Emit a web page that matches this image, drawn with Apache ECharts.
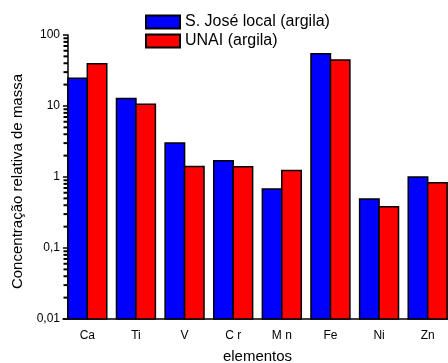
<!DOCTYPE html>
<html>
<head>
<meta charset="utf-8">
<script src="https://cdn.jsdelivr.net/npm/echarts@6/dist/echarts.min.js"></script>
<style>
html,body{margin:0;padding:0;background:#fff;}
#c{width:448px;height:363px;}
</style>
</head>
<body>
<div id="c"></div>
<script>
var categories = ['Ca', 'Ti', 'V', 'C r', 'M n', 'Fe', 'Ni', 'Zn'];
var seriesNames = ['S. José local (argila)', 'UNAI (argila)'];
var sJose = [24.6, 12.8, 3.0, 1.7, 0.68, 54.5, 0.49, 1.0];
var unai = [39.5, 10.6, 1.4, 1.39, 1.23, 44.5, 0.38, 0.83];
var yMin = 0.01, yMax = 100;
var minorTickValues = [];
for (var k = -2; k < 2; k++) {
  for (var m = 2; m <= 9; m++) minorTickValues.push(m * Math.pow(10, k));
}

var FONT = 'Liberation Sans, Arial, sans-serif';
var chart = echarts.init(document.getElementById('c'));

function fmt(v) { return String(v).replace('.', ','); }

function barSeries(name, values, color, idx) {
  return {
    name: name,
    type: 'custom',
    data: values.map(function (v, i) { return [i, v]; }),
    encode: { x: 0, y: 1 },
    renderItem: function (params, api) {
      var ci = api.value(0);
      var top = api.coord([ci, api.value(1)]);
      var base = api.coord([ci, yMin]);
      var bw = api.size([1, 0])[0];
      var w = bw * 0.4;
      var x = top[0] + (idx === 0 ? -w : 0);
      return {
        type: 'rect',
        shape: { x: x, y: top[1], width: w, height: base[1] - top[1] },
        style: { fill: color, stroke: '#000', lineWidth: 1.5 }
      };
    },
    itemStyle: { color: color, borderColor: '#000', borderWidth: 1.5 }
  };
}

function minorTickSeries() {
  return {
    type: 'custom',
    silent: true,
    clip: false,
    z: 20,
    data: minorTickValues.map(function (v) { return [0, v]; }),
    encode: { x: 0, y: 1 },
    renderItem: function (params, api) {
      var p = api.coord([0, api.value(1)]);
      var bw = api.size([1, 0])[0];
      var ax = p[0] - bw / 2 + 5;
      return {
        type: 'rect',
        shape: { x: ax - 4.5, y: p[1] - 1, width: 4.5, height: 2 },
        style: { fill: '#000', stroke: null }
      };
    }
  };
}

chart.setOption({
  animation: false,
  textStyle: { fontFamily: FONT },
  legend: {
    left: 140,
    top: 9,
    orient: 'vertical',
    itemWidth: 34,
    itemHeight: 13,
    itemGap: 3,
    textStyle: { fontSize: 16, color: '#000', fontFamily: FONT },
    data: seriesNames.map(function (n) { return { name: n, icon: 'rect' }; })
  },
  grid: { left: 63, top: 35, width: 389, height: 284, outerBoundsMode: 'none', containLabel: false },
  xAxis: [{
    type: 'category',
    data: categories,
    axisLine: { lineStyle: { color: '#000', width: 1.5 } },
    axisTick: { alignWithLabel: true, length: 5, lineStyle: { color: '#000', width: 1.5 } },
    axisLabel: { color: '#000', fontSize: 12, margin: 11, fontFamily: FONT },
    name: 'elementos',
    nameLocation: 'middle',
    nameGap: 30,
    nameTextStyle: { fontSize: 15, color: '#000', fontFamily: FONT }
  }, {
    type: 'category',
    data: categories,
    position: 'bottom',
    axisLine: { show: false },
    axisTick: { length: 3, lineStyle: { color: '#000', width: 2 } },
    axisLabel: { show: false }
  }],
  yAxis: {
    type: 'log',
    logBase: 10,
    min: yMin,
    max: yMax,
    offset: -5,
    axisLine: { show: true, lineStyle: { color: '#000', width: 1.5 } },
    axisTick: { show: true, length: 5, lineStyle: { color: '#000', width: 1.5 } },
    axisLabel: { color: '#000', fontSize: 12, margin: 8, fontFamily: FONT,
      formatter: function (v) { return fmt(v); } },
    splitLine: { show: false },
    name: 'Concentração relativa de massa',
    nameLocation: 'middle',
    nameGap: 41,
    nameTextStyle: { fontSize: 15, color: '#000', fontFamily: FONT, padding: [0, 9, 0, 0] }
  },
  series: [
    barSeries(seriesNames[0], sJose, '#0000ff', 0),
    barSeries(seriesNames[1], unai, '#ff0000', 1),
    minorTickSeries()
  ]
});
</script>
</body>
</html>
